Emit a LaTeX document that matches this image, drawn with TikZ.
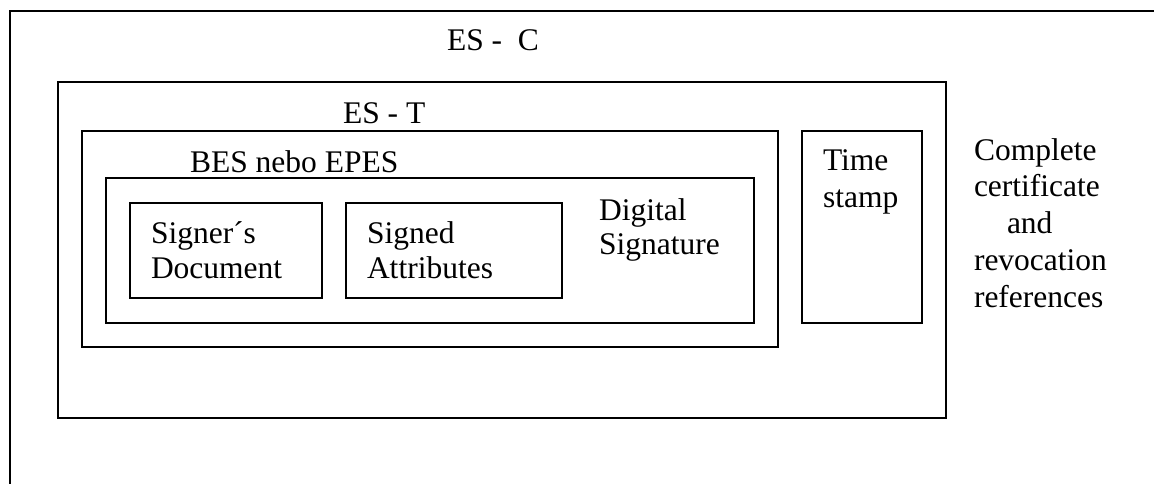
\documentclass[tikz,border=0pt]{standalone}
\usepackage{fontspec}
\setmainfont{Liberation Serif}
\begin{document}
\begin{tikzpicture}[x=1pt,y=-1pt,
  box/.style={draw, line width=1.8pt, rectangle, inner sep=0pt, outer sep=0pt},
  lbl/.style={anchor=base west, inner sep=0pt, outer sep=0pt, align=left,
    font=\fontsize{31.5}{36.7}\selectfont}]
\useasboundingbox (0,0) rectangle (1154,484);
\coordinate (ob) at (10,484);
\coordinate (otl) at (10,11);
\coordinate (otr) at (1154,11);
\draw[line width=2pt] (ob) -- (otl) -- (otr);
\node[box, minimum width=888pt, minimum height=336pt] (esc) at (502,250) {};
\node[box, minimum width=696pt, minimum height=216pt] (est) at (430,239) {};
\node[box, minimum width=648pt, minimum height=145pt] (bes) at (430,250.5) {};
\node[box, minimum width=192pt, minimum height=95pt] (sd) at (226,250.5) {};
\node[box, minimum width=216pt, minimum height=95pt] (sa) at (454,250.5) {};
\node[box, minimum width=120pt, minimum height=192pt] (ts) at (862,227) {};
\node[lbl] (tesc) at (447,51) {ES -\ \ C};
\node[lbl] (test) at (343,124) {ES - T};
\node[lbl] (tbes) at (190,172) {BES nebo EPES};
\node[lbl, font=\fontsize{31.5}{35}\selectfont] (tsd) at (151,278) {Signer´s\\Document};
\node[lbl, font=\fontsize{31.5}{35}\selectfont] (tsa) at (367,278) {Signed\\Attributes};
\node[lbl, font=\fontsize{31.5}{34}\selectfont] (tdig) at (599,254) {Digital\\Signature};
\node[lbl] (tts) at (823,207) {Time\\stamp};
\node[lbl] (tcc) at (974,307) {Complete\\certificate\\\hspace{33pt}and\\revocation\\references};
\end{tikzpicture}
\end{document}
